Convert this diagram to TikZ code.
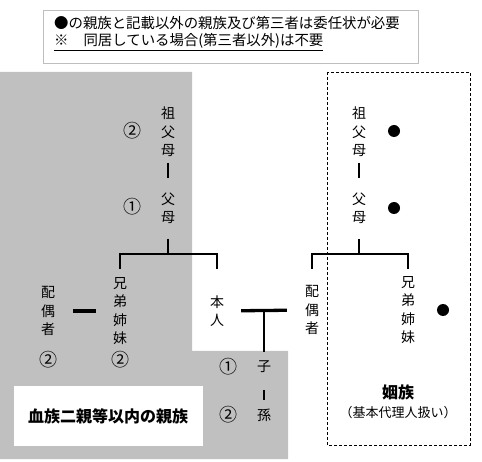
\documentclass[tikz,border=0pt]{standalone}
\usepackage{fontspec}
\setmainfont{Noto Sans CJK JP}
\usetikzlibrary{positioning}
\definecolor{bloodgray}{RGB}{192,192,192}
\definecolor{notegray}{RGB}{190,190,190}
\tikzset{
  kin/.style={align=center, inner sep=1pt, font=\fontsize{14}{18.5}\selectfont},
  num/.style={inner sep=0pt, font=\fontsize{18}{18}\selectfont},
  dot/.style={circle, fill=black, minimum size=12pt, inner sep=0pt},
  tie/.style={line width=1.2pt},
  couple/.style={line width=3.3pt},
  groupname/.style={inner sep=0pt, font=\fontsize{16}{16}\selectfont\bfseries},
  notetext/.style={anchor=west, inner sep=0pt, font=\fontsize{14.4}{14.4}\selectfont}
}

\begin{document}
\begin{tikzpicture}[x=1pt, y=-1pt]
\useasboundingbox (0,0) rectangle (482,462);
% note at the top
\draw[notegray, line width=0.9pt] (43,10) rectangle (418,63);
\node[notetext] (note1) at (54,23) {●の親族と記載以外の親族及び第三者は委任状が必要};
\node[notetext] (note2) at (54,42) {\underline{※\hspace{15pt}同居している場合(第三者以外)は不要}};

% blood relatives (grey L-shape)
\fill[bloodgray] (0,72) -- (192,72) -- (192,351) -- (288,351) -- (288,459) -- (0,459) -- cycle;
\fill[white] (14,386) rectangle (203,446);
\node[groupname] (blood) at (108,416) {血族二親等以内の親族};

% in-laws (dashed box)
\draw[line width=0.8pt, dash pattern=on 3pt off 2pt] (327,72) rectangle (470,445);
\node[groupname] (inlaw) at (398,392) {姻族};
\node[kin, font=\fontsize{13}{13}\selectfont] (inlawnote) at (398,413) {（基本代理人扱い）};

% left side
\node[kin] (lgp) at (168,132) {祖\\父\\母};
\node[kin] (lpa) at (168,208.5) {父\\母};
\node[kin] (lsib) at (120,311) {兄\\弟\\姉\\妹};
\node[kin] (lsp) at (48,311) {配\\偶\\者};
\node[kin] (me) at (217,311) {本\\人};
\node[kin] (child) at (264,367) {子};
\node[kin] (gchild) at (264,415) {孫};
\node[num] (ngp) at (132,131) {②};
\node[num] (npa) at (132,207) {①};
\node[num] (nsp) at (48,360) {②};
\node[num] (nsib) at (120,360) {②};
\node[num] (nchild) at (228,367) {①};
\node[num] (ngchild) at (228,415) {②};

% right side
\node[kin] (rgp) at (359,132) {祖\\父\\母};
\node[kin] (rpa) at (359,208.5) {父\\母};
\node[kin] (rsp) at (312,310) {配\\偶\\者};
\node[kin] (rsib) at (408,310) {兄\\弟\\姉\\妹};
\node[dot] (dgp) at (394,131) {};
\node[dot] (dpa) at (394,208) {};
\node[dot] (dsib) at (443,310) {};

% junctions
\coordinate (lbar) at (168,254);
\coordinate (rbar) at (359,254);
\coordinate (leg) at (0,269);
\coordinate (mid) at (264,311);

% lines
\draw[tie] ([yshift=-31pt]lgp.center) -- ([yshift=30.5pt]lpa.center);
\draw[tie] ([yshift=-30.5pt]lpa.center) -- (lbar);
\draw[tie] (lsib.north |- leg) |- (lbar) -| (me.north |- leg);
\draw[tie] ([yshift=-31pt]rgp.center) -- ([yshift=30.5pt]rpa.center);
\draw[tie] ([yshift=-30.5pt]rpa.center) -- (rbar);
\draw[tie] (rsp.north |- leg) |- (rbar) -| (rsib.north |- leg);
\draw[couple, shorten <=17pt, shorten >=16pt] (lsp) -- (lsib);
\draw[couple, shorten <=16pt, shorten >=17pt] (me) -- (rsp);
\draw[tie] (mid) -- ([yshift=15pt]child.center);
\draw[tie] ([yshift=-23pt]child.center) -- ([yshift=15pt]gchild.center);
\end{tikzpicture}
\end{document}
